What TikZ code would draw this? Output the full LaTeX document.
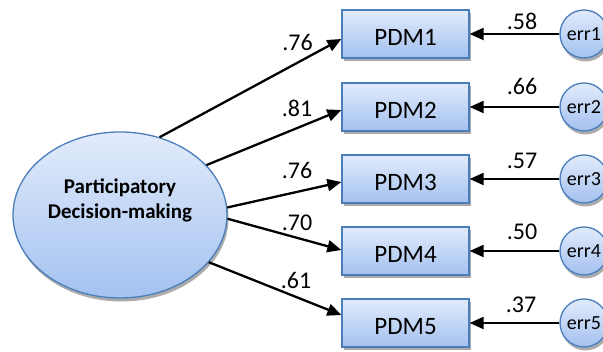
\documentclass[tikz,border=0pt]{standalone}
\usepackage{fontspec}
\setmainfont{Carlito}
\usetikzlibrary{arrows.meta,shadows,shapes.geometric}

\definecolor{semedge}{HTML}{4A7EBB}
\definecolor{semtop}{HTML}{E2EBFB}
\definecolor{sembot}{HTML}{A3C1F0}

\tikzset{
  semshadow/.style={drop shadow={shadow xshift=1.5pt, shadow yshift=-3.5pt, fill=black!55, opacity=0.6}},
  latent/.style={ellipse, draw=semedge, line width=1.3pt, top color=semtop, bottom color=sembot,
    minimum width=214pt, minimum height=166pt, inner sep=0pt, semshadow},
  manifest/.style={rectangle, draw=semedge, line width=1.3pt, top color=semtop, bottom color=sembot,
    minimum width=127pt, minimum height=48pt, inner sep=0pt, text height=24pt,
    font=\fontsize{25}{30}\selectfont, semshadow},
  errvar/.style={circle, draw=semedge, line width=1.3pt, top color=semtop, bottom color=sembot,
    minimum size=48pt, inner sep=0pt, font=\fontsize{20}{24}\selectfont, semshadow},
  coef/.style={font=\fontsize{24}{28}\selectfont, inner sep=0pt},
  arr/.style={line width=2.3pt, -{Triangle[length=14pt,width=12pt]}}
}

\begin{document}
\begin{tikzpicture}[x=1pt, y=-1pt]

\useasboundingbox (0,0) rectangle (603,352);

% latent factor
\node[latent] (pdm) at (120,215) {};
\node[font=\bfseries\fontsize{21}{25}\selectfont, align=center] (pdmtext) at (120,200) {Participatory\\Decision-making};

% indicators
\node[manifest] (m1) at (405.5,34) {PDM1};
\node[manifest] (m2) at (405.5,107) {PDM2};
\node[manifest] (m3) at (405.5,179) {PDM3};
\node[manifest] (m4) at (405.5,251) {PDM4};
\node[manifest] (m5) at (405.5,323) {PDM5};

% error terms
\node[errvar] (e1) at (584,34) {err1};
\node[errvar] (e2) at (584,107) {err2};
\node[errvar] (e3) at (584,179) {err3};
\node[errvar] (e4) at (584,251) {err4};
\node[errvar] (e5) at (584,323) {err5};

% loadings
\draw[arr] (pdm.63) -- ([yshift=-5pt]m1.west); %pdm-m1
\draw[arr] (pdm.30) -- ([yshift=-3pt]m2.west); %pdm-m2
\draw[arr] (pdm.4) -- ([yshift=-3pt]m3.west); %pdm-m3
\draw[arr] (pdm.-2) -- ([yshift=1pt]m4.west); %pdm-m4
\draw[arr] (pdm.-28) -- ([yshift=8pt]m5.west); %pdm-m5

% error paths
\draw[arr] (e1) -- (m1); %e1-m1
\draw[arr] (e2) -- (m2); %e2-m2
\draw[arr] (e3) -- (m3); %e3-m3
\draw[arr] (e4) -- (m4); %e4-m4
\draw[arr] (e5) -- (m5); %e5-m5

\node[coef] (l1) at (297.5,42.5) {.76};
\node[coef] (l2) at (297,108) {.81};
\node[coef] (l3) at (297,170) {.76};
\node[coef] (l4) at (297,223) {.70};
\node[coef] (l5) at (296,280) {.61};

\node[coef] (r1) at (522,21.5) {.58};
\node[coef] (r2) at (522,86.5) {.66};
\node[coef] (r3) at (522,161) {.57};
\node[coef] (r4) at (522,231.5) {.50};
\node[coef] (r5) at (521,304.5) {.37};

\end{tikzpicture}
\end{document}
